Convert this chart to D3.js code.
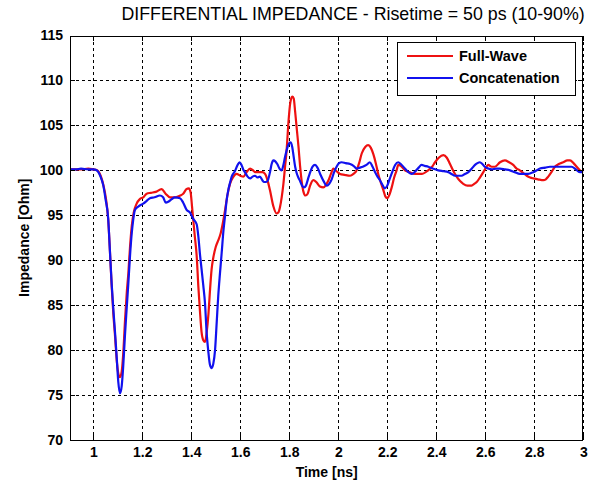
<!DOCTYPE html>
<html>
<head>
<meta charset="utf-8">
<script src="https://cdn.jsdelivr.net/npm/d3@7"></script>
<style>
  html, body { margin: 0; padding: 0; background: #fff; }
  svg { display: block; font-family: Arial, "Liberation Sans", sans-serif; }
</style>
</head>
<body>
<svg id="chart" width="596" height="484"></svg>
<script>
// Time samples [ns] and impedance [Ohm] for each trace
const fullWaveTime = [0.905,0.95,0.98,1.0,1.015,1.03,1.041,1.052,1.061,1.068,1.075,1.082,1.089,1.097,1.104,1.109,1.116,1.122,1.13,1.137,1.143,1.15,1.157,1.165,1.177,1.19,1.204,1.218,1.235,1.255,1.279,1.295,1.313,1.335,1.355,1.367,1.38,1.39,1.397,1.403,1.408,1.415,1.422,1.429,1.435,1.442,1.449,1.456,1.463,1.47,1.476,1.483,1.49,1.5,1.51,1.52,1.53,1.538,1.548,1.558,1.57,1.585,1.6,1.613,1.626,1.64,1.652,1.66,1.675,1.69,1.701,1.712,1.721,1.735,1.748,1.755,1.762,1.769,1.776,1.782,1.789,1.797,1.804,1.812,1.818,1.824,1.831,1.838,1.844,1.851,1.858,1.866,1.875,1.885,1.898,1.91,1.925,1.939,1.95,1.96,1.97,1.98,1.993,2.007,2.025,2.048,2.062,2.075,2.085,2.096,2.11,2.122,2.133,2.143,2.153,2.163,2.174,2.184,2.192,2.2,2.209,2.218,2.228,2.238,2.245,2.255,2.272,2.29,2.313,2.34,2.367,2.383,2.395,2.41,2.429,2.443,2.456,2.47,2.483,2.497,2.51,2.527,2.544,2.555,2.565,2.578,2.592,2.605,2.612,2.626,2.639,2.66,2.68,2.697,2.714,2.728,2.741,2.755,2.769,2.783,2.796,2.815,2.837,2.847,2.857,2.87,2.884,2.9,2.918,2.935,2.946,2.96,2.973,2.986,3.0];
const fullWaveZ = [100.1,100.1,100.2,100.1,100.0,99.4,98.4,96.8,94.5,91,87.2,84,81.5,78.5,77.2,77.0,77.6,79.5,83.5,86.5,88.5,91.5,93.8,95.3,96.3,96.8,97.0,97.4,97.5,97.6,97.9,97.4,97.0,97.0,97.2,97.4,97.9,98.0,97.6,96,94.5,92.5,90.5,87,84.5,82,81.1,80.9,82,84,86.5,89,90.3,91.5,92.2,93.0,94.3,95.6,97.3,98.5,99.2,99.6,99.4,99.3,99.8,100.2,100.0,99.8,99.8,99.8,99.6,98.8,97.8,96.0,95.2,95.3,95.9,97.0,98.5,100.2,102.2,105.5,107.5,108.2,108.0,106.5,104.5,102.5,100.5,98.7,97.6,97.2,97.4,98.3,98.9,98.7,98.2,98.1,98.4,98.9,99.6,100.2,99.9,99.6,99.5,99.4,99.6,100.0,100.8,101.9,102.6,102.8,102.5,101.8,100.8,99.6,98.6,97.8,97.1,96.9,97.3,98.1,99.2,100.0,100.6,100.5,100.0,99.8,99.6,99.6,100.0,100.4,100.9,101.4,101.7,101.4,100.7,99.9,99.3,98.8,98.5,98.3,98.3,98.5,98.7,99.2,99.8,100.4,100.6,100.4,100.4,100.9,101.1,100.9,100.6,100.2,100.0,99.7,99.4,99.2,99.1,99.0,98.9,99.0,99.3,99.8,100.4,100.7,100.9,101.1,101.1,100.8,100.4,100.0,99.8];

const concatTime = [0.905,0.93,0.95,0.98,1.0,1.014,1.025,1.035,1.041,1.05,1.061,1.068,1.075,1.082,1.089,1.096,1.102,1.109,1.116,1.122,1.129,1.136,1.143,1.15,1.157,1.163,1.17,1.185,1.204,1.218,1.231,1.25,1.272,1.285,1.296,1.306,1.32,1.333,1.354,1.367,1.381,1.395,1.408,1.422,1.429,1.436,1.442,1.449,1.456,1.463,1.469,1.476,1.483,1.49,1.497,1.504,1.51,1.517,1.524,1.531,1.538,1.544,1.551,1.558,1.565,1.578,1.589,1.597,1.605,1.612,1.619,1.63,1.64,1.65,1.66,1.67,1.68,1.69,1.697,1.706,1.714,1.722,1.728,1.735,1.743,1.751,1.76,1.769,1.776,1.782,1.789,1.797,1.805,1.812,1.818,1.824,1.83,1.837,1.844,1.852,1.86,1.868,1.876,1.884,1.895,1.905,1.915,1.926,1.94,1.953,1.963,1.973,1.983,1.993,2.003,2.014,2.03,2.048,2.062,2.075,2.088,2.1,2.115,2.129,2.14,2.15,2.16,2.17,2.18,2.19,2.2,2.208,2.22,2.232,2.245,2.255,2.272,2.286,2.3,2.315,2.328,2.34,2.353,2.367,2.385,2.408,2.43,2.449,2.462,2.476,2.49,2.503,2.517,2.531,2.545,2.558,2.568,2.578,2.588,2.598,2.612,2.626,2.645,2.66,2.68,2.701,2.72,2.741,2.758,2.775,2.796,2.81,2.823,2.845,2.864,2.89,2.918,2.952,2.97,2.987,3.0];
const concatZ = [100.1,100.1,100.2,100.1,100.1,100.0,99.6,98.9,98.3,96.8,94.6,91,87.4,84.5,81.9,79,76.5,75.2,76.0,78.1,81.5,84.5,87.4,90.5,93.0,94.5,95.6,96.0,96.3,96.6,96.9,97.0,97.2,97.0,96.4,96.5,96.8,97.0,96.9,96.4,95.6,95.3,94.6,94.0,92.6,90.5,89.0,87.2,85.2,81.8,80.0,78.4,78.0,78.5,80.0,83.2,86.0,88.5,90.8,93.2,95.0,96.6,97.8,98.6,99.3,99.9,100.6,100.9,100.6,100.1,99.8,99.3,99.1,99.3,99.4,99.2,99.3,98.9,98.7,98.7,99.0,99.9,100.7,101.1,101.0,100.7,100.2,100.0,100.6,101.4,102.2,102.9,103.1,102.6,101.5,100.4,99.7,99.2,98.8,98.3,98.1,98.3,99.0,99.7,100.4,100.6,100.3,99.6,98.8,98.3,98.5,99.0,99.8,100.4,100.8,100.9,100.8,100.7,100.5,100.2,100.3,100.4,100.6,100.9,100.4,99.8,99.3,98.9,98.4,98.0,98.3,98.9,99.8,100.6,100.9,100.7,100.2,99.8,99.6,99.9,100.3,100.6,100.5,100.4,100.2,100.0,99.9,99.8,99.6,99.4,99.4,99.4,99.6,99.8,100.2,100.6,100.8,100.9,100.7,100.4,100.2,100.1,100.2,100.2,100.1,100.0,99.8,99.6,99.6,99.6,99.8,100.0,100.2,100.3,100.4,100.4,100.4,100.4,100.1,99.8,99.8];

const seriesNames = ["Full-Wave", "Concatenation"];
const seriesColors = ["#ee1111", "#1111ee"];

const xTicks = [1, 1.2, 1.4, 1.6, 1.8, 2, 2.2, 2.4, 2.6, 2.8, 3];
const yTicks = [70, 75, 80, 85, 90, 95, 100, 105, 110, 115];

const titleText = "DIFFERENTIAL IMPEDANCE - Risetime = 50 ps (10-90%)";
const xLabel = "Time [ns]";
const yLabel = "Impedance [Ohm]";

// Axes box
const plot = { left: 70, right: 583.3, top: 35.5, bottom: 440 };

const svg = d3.select("#chart");

const x = d3.scaleLinear().domain([0.905, 3]).range([plot.left, plot.right]);
const y = d3.scaleLinear().domain([70, 115]).range([plot.bottom, plot.top]);

const fmt = d => String(d);

// Dotted grid
const grid = svg.append("g").attr("stroke", "#000").attr("stroke-width", 1)
  .attr("stroke-dasharray", "3,3").attr("shape-rendering", "crispEdges");
grid.selectAll("line.vx").data(xTicks).join("line")
  .attr("x1", d => Math.round(x(d)) + 0.5).attr("x2", d => Math.round(x(d)) + 0.5)
  .attr("y1", plot.top).attr("y2", plot.bottom);
grid.selectAll("line.hy").data(yTicks).join("line")
  .attr("x1", plot.left).attr("x2", plot.right)
  .attr("y1", d => Math.round(y(d)) + 0.5).attr("y2", d => Math.round(y(d)) + 0.5);

// Traces
const line = d3.line().x(d => x(d[0])).y(d => y(d[1])).curve(d3.curveMonotoneX);
const traces = [
  d3.zip(fullWaveTime, fullWaveZ),
  d3.zip(concatTime, concatZ)
];
svg.append("defs").append("clipPath").attr("id", "clip")
  .append("rect").attr("x", plot.left).attr("y", plot.top)
  .attr("width", plot.right - plot.left).attr("height", plot.bottom - plot.top);
svg.append("g").attr("clip-path", "url(#clip)")
  .selectAll("path").data(traces).join("path")
  .attr("d", line)
  .attr("fill", "none")
  .attr("stroke", (d, i) => seriesColors[i])
  .attr("stroke-width", 2.2)
  .attr("stroke-linejoin", "round");

// Axes with inward ticks on all four sides
const tickLen = 5;
const axisStyle = g => {
  g.select(".domain").remove();
  g.selectAll(".tick line").attr("stroke", "#000").attr("shape-rendering", "crispEdges");
  g.selectAll(".tick text").attr("fill", "#000").attr("font-size", 14).attr("font-weight", "bold");
};
svg.append("g").attr("transform", `translate(0,${plot.bottom})`)
  .call(d3.axisBottom(x).tickValues(xTicks).tickFormat(fmt).tickSize(-tickLen).tickPadding(7))
  .call(axisStyle);
svg.append("g").attr("transform", `translate(0,${plot.top})`)
  .call(d3.axisTop(x).tickValues(xTicks).tickFormat("").tickSize(-tickLen))
  .call(axisStyle);
svg.append("g").attr("transform", `translate(${plot.left},0)`)
  .call(d3.axisLeft(y).tickValues(yTicks).tickFormat(fmt).tickSize(-tickLen).tickPadding(7))
  .call(axisStyle);
svg.append("g").attr("transform", `translate(${plot.right},0)`)
  .call(d3.axisRight(y).tickValues(yTicks).tickFormat("").tickSize(-tickLen))
  .call(axisStyle);

// Frame
svg.append("rect")
  .attr("x", plot.left + 0.5).attr("y", plot.top + 0.5)
  .attr("width", plot.right - plot.left - 1).attr("height", plot.bottom - plot.top)
  .attr("fill", "none").attr("stroke", "#000").attr("stroke-width", 1)
  .attr("shape-rendering", "crispEdges");

// Title and axis labels
svg.append("text").attr("x", 353).attr("y", 20).attr("text-anchor", "middle")
  .attr("font-size", 17.8).attr("fill", "#000").text(titleText);
svg.append("text").attr("x", (plot.left + plot.right) / 2).attr("y", 477)
  .attr("text-anchor", "middle").attr("font-size", 14).attr("font-weight", "bold")
  .attr("fill", "#000").text(xLabel);
svg.append("text").attr("transform", `translate(29,${(plot.top + plot.bottom) / 2}) rotate(-90)`)
  .attr("text-anchor", "middle").attr("font-size", 14).attr("font-weight", "bold")
  .attr("fill", "#000").text(yLabel);

// Legend
const legend = svg.append("g").attr("transform", "translate(397,42)");
legend.append("rect").attr("x", 0.5).attr("y", 0.5).attr("width", 178).attr("height", 53)
  .attr("fill", "#fff").attr("stroke", "#000").attr("shape-rendering", "crispEdges");
const item = legend.selectAll("g.item").data(seriesNames).join("g")
  .attr("transform", (d, i) => `translate(0,${14 + i * 22})`);
item.append("line").attr("x1", 10).attr("x2", 56).attr("y1", 0).attr("y2", 0)
  .attr("stroke", (d, i) => seriesColors[i]).attr("stroke-width", 2.2);
item.append("text").attr("x", 62).attr("y", 5).attr("font-size", 14.5)
  .attr("font-weight", "bold").attr("fill", "#000").text(d => d);
</script>
</body>
</html>
